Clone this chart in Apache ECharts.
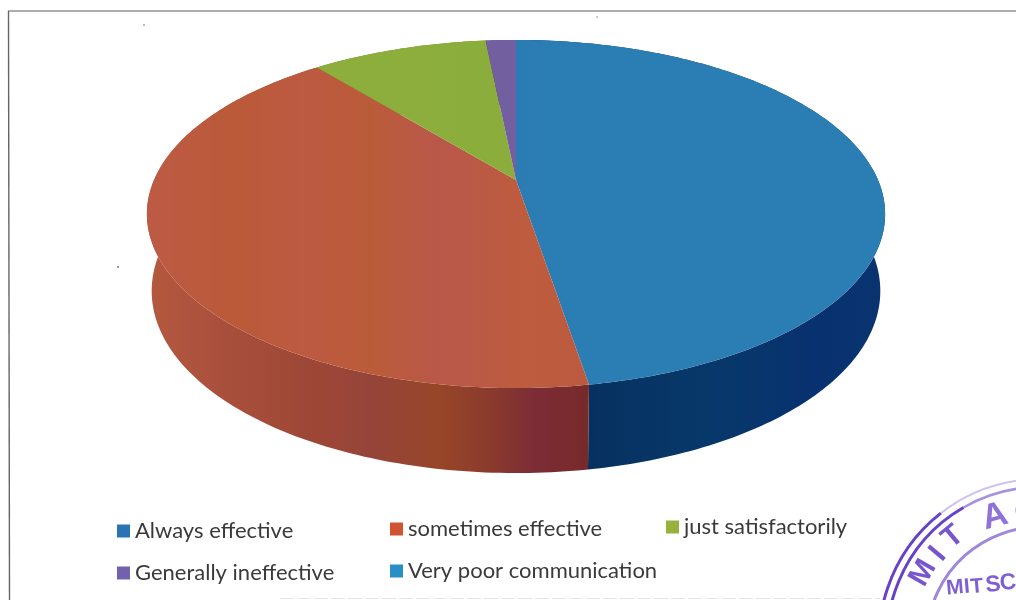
<!DOCTYPE html>
<html>
<head>
<meta charset="utf-8">
<style>html,body{margin:0;padding:0;background:#fff}#chart{width:1016px;height:600px}</style>
<script src="https://cdn.jsdelivr.net/npm/echarts@6/dist/echarts.min.js"></script>
</head>
<body>
<div id="chart"></div>
<script>
// Survey answers and their share of responses (percent)
const categories = ['Always effective', 'sometimes effective', 'just satisfactorily', 'Generally ineffective', 'Very poor communication'];
const shares = [47.4, 41.7, 9.3, 1.6, 0];
const swatches = ['#2a74b4', '#d2532f', '#96b23c', '#7262ae', '#2a8fc6'];

// Where each legend entry sits
const legendLeft = [117, 390, 666, 117, 390];
const legendTop = [520, 518, 516, 562, 560];

// Banded fills for the disc top and the side wall, left to right
const topBands = [
  [[0, '#2a7db5'], [0.5, '#2979b1'], [1, '#2b7eb4']],
  [[0, '#bd5a45'], [0.2, '#ba5a38'], [0.35, '#bc5a42'], [0.5, '#ba5b38'], [0.66, '#b9584a'], [0.85, '#bd5c3e'], [1, '#bc5a40']],
  [[0, '#8fb03c'], [1, '#8aac3c']],
  [[0, '#6d5ca6'], [1, '#73609f']],
  [[0, '#2a8fc6'], [1, '#2a8fc6']]
];
const wallBands = [
  [[0, '#06315f'], [0.4, '#07386a'], [0.75, '#08326f'], [1, '#0a3470']],
  [[0, '#b5583f'], [0.18, '#a84f3c'], [0.36, '#9f4736'], [0.5, '#96443a'], [0.66, '#974629'], [0.78, '#8a3a2c'], [0.88, '#7c2c36'], [1, '#772a2a']],
  [[0, '#6d8a2a'], [1, '#6d8a2a']],
  [[0, '#4d4080'], [1, '#4d4080']],
  [[0, '#1a6a94'], [1, '#1a6a94']]
];

// Tilted disc: a circle seen in perspective, so its centre sits above the middle of the ellipse
const disc = { cx: 516, cy: 180, a: 362, b: 167.4, k: 0.1954, foot: 0.987, depth: 75, depthGrow: 10 };
const total = shares.reduce((s, v) => s + v, 0);

function rimPoint(theta) {
  const u = Math.sin(theta), v = -Math.cos(theta), w = 1 - disc.k * v;
  return { x: disc.cx + disc.a * u / w, y: disc.cy + disc.b * v / w, v };
}
function footPoint(theta) {
  const p = rimPoint(theta);
  return [disc.cx + (p.x - disc.cx) * disc.foot, p.y + disc.depth + disc.depthGrow * p.v];
}

function renderSlice(index) {
  return function (params, api) {
    const value = api.value(0);
    if (!value) return { type: 'group', children: [] };
    const before = shares.slice(0, index).reduce((s, v) => s + v, 0);
    const from = before / total * Math.PI * 2;
    const to = (before + value) / total * Math.PI * 2;
    const steps = Math.max(8, Math.round((to - from) * 60));
    const rim = [], foot = [];
    for (let i = 0; i <= steps; i++) {
      const t = from + (to - from) * i / steps;
      const p = rimPoint(t);
      rim.push([p.x, p.y]);
      foot.push(footPoint(t));
    }
    const wallX0 = index === 0 ? 588 : 148, wallX1 = index === 0 ? 886 : 588;
    const wallFill = new echarts.graphic.LinearGradient(wallX0, 0, wallX1, 0, wallBands[index].map(s => ({ offset: s[0], color: s[1] })), true);
    const topFill = new echarts.graphic.LinearGradient(148, 0, 590, 0, topBands[index].map(s => ({ offset: s[0], color: s[1] })), true);
    return {
      type: 'group',
      children: [
        { type: 'polygon', z2: 1, shape: { points: rim.concat(foot.slice().reverse()) }, style: { fill: wallFill } },
        { type: 'polygon', z2: 10, shape: { points: [[disc.cx, disc.cy]].concat(rim) }, style: { fill: topFill } }
      ]
    };
  };
}

const series = categories.map((name, i) => ({
  name,
  type: 'custom',
  coordinateSystem: 'none',
  silent: true,
  itemStyle: { color: swatches[i] },
  data: [[shares[i]]],
  renderItem: renderSlice(i)
}));

const legends = categories.map((name, i) => ({
  data: [name],
  left: legendLeft[i],
  top: legendTop[i],
  padding: 0,
  icon: 'rect',
  itemWidth: 13,
  itemHeight: 13,
  itemGap: 0,
  selectedMode: false,
  textStyle: { fontFamily: 'Lato', fontSize: 22, color: '#3a3a3a', padding: [0, 0, 0, 0] }
}));

// Ink stamp in the lower right corner
const stampInk = '#5f38c4';
const stampCentre = [1040, 640];
function stampArc(r, startDeg, endDeg, width, opacity) {
  return {
    type: 'arc',
    shape: { cx: stampCentre[0], cy: stampCentre[1], r, startAngle: startDeg * Math.PI / 180, endAngle: endDeg * Math.PI / 180 },
    style: { fill: null, stroke: stampInk, lineWidth: width, opacity }
  };
}
function stampLetter(text, x, y, deg, size, opacity) {
  return {
    type: 'text', x, y, rotation: deg * Math.PI / 180,
    style: { text, fontFamily: 'Liberation Sans', fontWeight: 'bold', fontSize: size, fill: stampInk, opacity, align: 'center', verticalAlign: 'middle' }
  };
}

const marks = [
  // Page frame
  { type: 'line', shape: { x1: 8, y1: 11, x2: 1016, y2: 11 }, style: { stroke: '#5c5c5c', lineWidth: 1.2 } },
  { type: 'line', shape: { x1: 8.5, y1: 11, x2: 9.5, y2: 600 }, style: { stroke: '#666666', lineWidth: 1.4 } },
  { type: 'line', shape: { x1: 280, y1: 598.5, x2: 880, y2: 598.5 }, style: { stroke: '#e6e6e6', lineWidth: 1, lineDash: [14, 3] } },
  // Specks
  { type: 'circle', shape: { cx: 144, cy: 25, r: 1 }, style: { fill: '#aaaaaa' } },
  { type: 'circle', shape: { cx: 118, cy: 267, r: 1 }, style: { fill: '#777777' } },
  { type: 'circle', shape: { cx: 597, cy: 17, r: 1 }, style: { fill: '#bbbbbb' } },
  // Stamp rings
  stampArc(161, 165, 232, 3, 0.95), stampArc(161, 232, 290, 2, 0.3),
  stampArc(153, 165, 240, 3, 0.95), stampArc(153, 240, 290, 2.5, 0.55),
  stampArc(113, 160, 290, 3, 0.6),
  // Stamp lettering
  stampLetter('M', 923, 573, 60, 30, 0.85),
  stampLetter('I', 938, 554, 50, 30, 0.85),
  stampLetter('T', 953, 537, 40, 30, 0.85),
  stampLetter('A', 995, 517, 15, 35, 0.7),
  stampLetter('C', 1027, 513, 5, 35, 0.7),
  stampLetter('M', 955, 588, 5, 21, 0.8),
  stampLetter('I', 967, 587, 5, 21, 0.8),
  stampLetter('T', 977, 587, 5, 21, 0.8),
  stampLetter('S', 993, 585, 5, 23, 0.8),
  stampLetter('C', 1008, 583, 5, 23, 0.8)
];

const chart = echarts.init(document.getElementById('chart'), null, { renderer: 'canvas' });
chart.setOption({
  animation: false,
  backgroundColor: '#ffffff',
  legend: legends,
  series,
  graphic: { elements: marks.map(m => Object.assign({ silent: true, z: -1 }, m)) }
});
</script>
</body>
</html>
